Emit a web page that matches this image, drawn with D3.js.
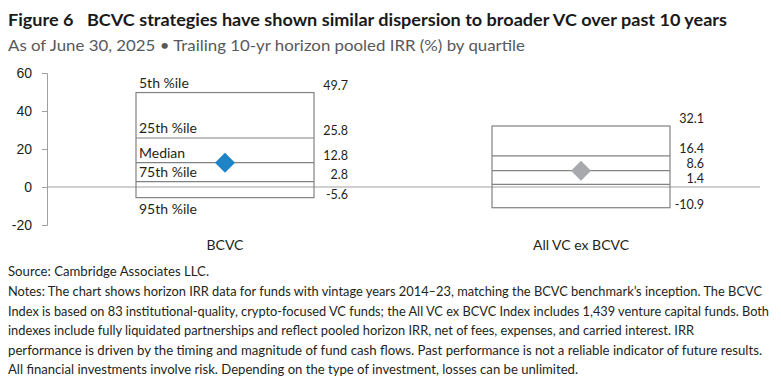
<!DOCTYPE html>
<html>
<head>
<meta charset="utf-8">
<script src="https://cdn.jsdelivr.net/npm/d3@7"></script>
<style>
  body { margin: 0; background: #fff; }
  svg { display: block; font-family: "Source Sans Pro", "Liberation Sans Narrow", Lato, "Noto Sans", sans-serif; }
</style>
</head>
<body>
<script>
// chart data
const categories = ["BCVC", "All VC ex BCVC"];
const pctLabels = ["5th %ile", "25th %ile", "Median", "75th %ile", "95th %ile"];
const bcvcValues = [49.7, 25.8, 12.8, 2.8, -5.6];
const allVcValues = [32.1, 16.4, 8.6, 1.4, -10.9];
const medianIndex = 2;
const yTicks = [-20, 0, 20, 40, 60];
const markerColors = ["#1f84c6", "#a7a9ac"];

const titleText = "Figure 6\u2002 BCVC strategies have shown similar dispersion to broader VC over past 10 years";
const subtitleText = "As of June 30, 2025 \u2022 Trailing 10-yr horizon pooled IRR (%) by quartile";
const sourceText = "Source: Cambridge Associates LLC.";
const notesLines = [
  "Notes: The chart shows horizon IRR data for funds with vintage years 2014\u201323, matching the BCVC benchmark\u2019s inception. The BCVC",
  "Index is based on 83 institutional-quality, crypto-focused VC funds; the All VC ex BCVC Index includes 1,439 venture capital funds. Both",
  "indexes include fully liquidated partnerships and reflect pooled horizon IRR, net of fees, expenses, and carried interest. IRR",
  "performance is driven by the timing and magnitude of fund cash flows.  Past performance is not a reliable indicator of future results.",
  "All financial investments involve risk. Depending on the type of investment, losses can be unlimited."
];
const notesWidths = [754, 761, 686, 754, 570];

const width = 781, height = 385;
const series = [bcvcValues, allVcValues];

const svg = d3.select("body").append("svg")
  .attr("width", width)
  .attr("height", height);

// titles
svg.append("text")
  .attr("x", 8).attr("y", 26)
  .attr("font-size", "17px").attr("font-weight", "bold")
  .attr("fill", "#1a1a1a")
  .attr("textLength", 719).attr("lengthAdjust", "spacingAndGlyphs")
  .text(titleText);
svg.append("text")
  .attr("x", 8).attr("y", 51)
  .attr("font-size", "15px")
  .attr("fill", "#58595b")
  .attr("textLength", 517).attr("lengthAdjust", "spacingAndGlyphs")
  .text(subtitleText);

// scales
const xScale = d3.scalePoint().domain(categories).range([47, 759]).padding(0.5);
const yScale = d3.scaleLinear().domain([-20, 60]).range([225, 73]);
const boxW = xScale.step() / 2;

// y axis (plain hyphen for negatives, like the original)
const yAxis = d3.axisLeft(yScale).tickValues(yTicks).tickFormat((d) => String(d)).tickSize(5).tickPadding(10);
const gY = svg.append("g").attr("transform", "translate(47,0)").call(yAxis);
gY.select(".domain").attr("stroke", "#a0a0a0");
gY.selectAll(".tick line").attr("stroke", "#a0a0a0");
gY.selectAll(".tick text")
  .attr("font-size", "14px")
  .attr("font-family", null)
  .attr("fill", "#231f20");

// zero line
svg.append("line")
  .attr("x1", 47).attr("x2", 760)
  .attr("y1", yScale(0)).attr("y2", yScale(0))
  .attr("stroke", "#a0a0a0").attr("stroke-width", 1);

// boxes
categories.forEach((cat, ci) => {
  const vals = series[ci];
  const cx = xScale(cat);
  const x0 = cx - boxW / 2, x1 = cx + boxW / 2;
  const g = svg.append("g");

  g.append("rect")
    .attr("x", x0).attr("width", boxW)
    .attr("y", yScale(vals[0]))
    .attr("height", yScale(vals[vals.length - 1]) - yScale(vals[0]))
    .attr("fill", "none")
    .attr("stroke", "#808285").attr("stroke-width", 1.2);

  g.selectAll(".mid")
    .data(vals.slice(1, -1))
    .enter().append("line")
    .attr("x1", x0).attr("x2", x1)
    .attr("y1", (d) => yScale(d)).attr("y2", (d) => yScale(d))
    .attr("stroke", "#808285").attr("stroke-width", 1.2);

  // median marker
  g.append("path")
    .attr("d", d3.symbol(d3.symbolSquare, 200)())
    .attr("transform", `translate(${cx},${yScale(vals[medianIndex])}) rotate(45)`)
    .attr("fill", markerColors[ci]);

  // value labels, right of box; push down if too close to the one above
  const labelY = [];
  vals.forEach((v, i) => {
    let y = yScale(v) - (i === vals.length - 1 ? 3 : 7);
    if (i > 0) y = Math.max(y, labelY[i - 1] + 15);
    labelY.push(y);
  });
  g.selectAll(".val")
    .data(vals)
    .enter().append("text")
    .attr("x", x1 + 34)
    .attr("y", (d, i) => labelY[i])
    .attr("dy", "0.35em")
    .attr("text-anchor", "end")
    .attr("font-size", "12.5px")
    .attr("fill", "#231f20")
    .text((d) => d.toFixed(1));

  // percentile labels only on first box
  if (ci === 0) {
    g.selectAll(".pct")
      .data(pctLabels)
      .enter().append("text")
      .attr("x", x0 + 3)
      .attr("y", (d, i) => i < pctLabels.length - 1 ? yScale(vals[i]) - 5 : yScale(vals[i]) + 16)
      .attr("font-size", "14px")
      .attr("fill", "#231f20")
      .text((d) => d);
  }

  // category label
  svg.append("text")
    .attr("x", cx).attr("y", 250)
    .attr("text-anchor", "middle")
    .attr("font-size", "14px")
    .attr("fill", "#231f20")
    .text(cat);
});

// source + notes
svg.append("text")
  .attr("x", 8).attr("y", 276)
  .attr("font-size", "13px").attr("fill", "#231f20")
  .attr("textLength", 201).attr("lengthAdjust", "spacingAndGlyphs")
  .text(sourceText);

svg.selectAll(".note")
  .data(notesLines)
  .enter().append("text")
  .attr("x", 8)
  .attr("y", (d, i) => 296 + i * 19.5)
  .attr("font-size", "13px").attr("fill", "#231f20")
  .attr("textLength", (d, i) => notesWidths[i])
  .attr("lengthAdjust", "spacingAndGlyphs")
  .text((d) => d);
</script>
</body>
</html>
